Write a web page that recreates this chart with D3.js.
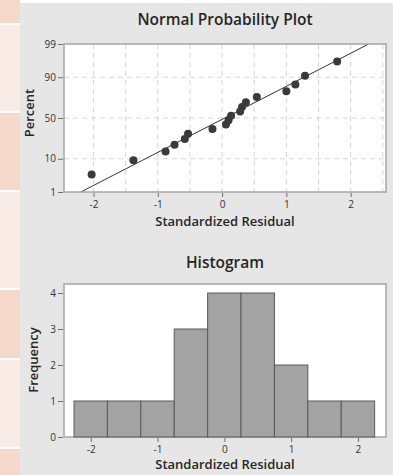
<!DOCTYPE html>
<html>
<head>
<meta charset="utf-8">
<script src="https://cdn.jsdelivr.net/npm/d3@7"></script>
<style>
body { margin: 0; background: #fff; font-family: "Open Sans", sans-serif; }
.tick text { font-family: "Open Sans", sans-serif; }
</style>
</head>
<body>
<div class="chart"></div>
<script>
// standardized residuals (sorted) and their plotted percent
var residuals = [-2.03, -1.38, -0.88, -0.74, -0.58, -0.53, -0.15, 0.06, 0.10, 0.14,
                 0.28, 0.31, 0.37, 0.54, 1.00, 1.14, 1.29, 1.79];
var percents  = [3.8, 9.2, 14.7, 20.1, 25.5, 31.0, 36.4, 41.8, 47.3, 52.7,
                 58.2, 63.6, 69.0, 74.5, 79.9, 85.3, 90.8, 96.2];
var pctTicks  = [1, 10, 50, 90, 99];
var pctGrid   = [10, 50, 90];
var resTicks  = [-2, -1, 0, 1, 2];
var resGrid   = [-2, -1.5, -1, -0.5, 0, 0.5, 1, 1.5, 2, 2.5];

// histogram
var binMids   = [-2, -1.5, -1, -0.5, 0, 0.5, 1, 1.5, 2];
var freqs     = [1, 1, 1, 3, 4, 4, 2, 1, 1];
var binWidth  = 0.5;
var freqTicks = [0, 1, 2, 3, 4];

// inverse normal cdf (Acklam)
function probit(p){
    var a = [-3.969683028665376e+01, 2.209460984245205e+02, -2.759285104469687e+02,
             1.383577518672690e+02, -3.066479806614716e+01, 2.506628277459239e+00];
    var b = [-5.447609879822406e+01, 1.615858368580409e+02, -1.556989798598866e+02,
             6.680131188771972e+01, -1.328068155288572e+01];
    var c = [-7.784894002430293e-03, -3.223964580411365e-01, -2.400758277161838e+00,
             -2.549732539343734e+00, 4.374664141464968e+00, 2.938163982698783e+00];
    var d = [7.784695709041462e-03, 3.224671290700398e-01, 2.445134137142996e+00,
             3.754408661907416e+00];
    var pl = 0.02425, q, r;
    if(p < pl){
        q = Math.sqrt(-2 * Math.log(p));
        return (((((c[0]*q+c[1])*q+c[2])*q+c[3])*q+c[4])*q+c[5]) / ((((d[0]*q+d[1])*q+d[2])*q+d[3])*q+1);
    }
    if(p > 1 - pl){
        q = Math.sqrt(-2 * Math.log(1 - p));
        return -(((((c[0]*q+c[1])*q+c[2])*q+c[3])*q+c[4])*q+c[5]) / ((((d[0]*q+d[1])*q+d[2])*q+d[3])*q+1);
    }
    q = p - 0.5; r = q * q;
    return (((((a[0]*r+a[1])*r+a[2])*r+a[3])*r+a[4])*r+a[5])*q / (((((b[0]*r+b[1])*r+b[2])*r+b[3])*r+b[4])*r+1);
}

// plain hyphen minus, like the original
var plain = (d) => { return String(d); };

var W = 393, H = 475;
var svg = d3.select('.chart').append('svg')
    .attr('width', W)
    .attr('height', H);

/* page background: pink side strip + gray panel */
var strips = [[0, 23, 1], [25, 111, 0], [113, 190, 1], [192, 288, 0], [290, 358, 1], [360, 447, 0], [449, 475, 1]];
svg.selectAll('.strip')
    .data(strips)
    .enter().append('rect')
    .attr('x', 0)
    .attr('width', 20)
    .attr('y', (d) => { return d[0]; })
    .attr('height', (d) => { return d[1] - d[0]; })
    .attr('fill', (d) => { return d[2] ? '#f4d8cc' : '#f9ece7'; });

svg.append('rect')
    .attr('x', 20).attr('y', 3)
    .attr('width', W - 20).attr('height', H - 3)
    .attr('fill', '#e6e6e6');

var ink = '#262626';

function styleAxis(g){
    g.select('.domain').remove();
    g.selectAll('.tick line').attr('stroke', '#707070');
    g.selectAll('.tick text')
        .attr('fill', '#333')
        .style('font-size', '10px');
}

function title(txt, y){
    svg.append('text')
        .attr('x', 225).attr('y', y)
        .attr('text-anchor', 'middle')
        .style('font-size', '15.5px')
        .style('font-weight', 600)
        .attr('fill', ink)
        .text(txt);
}

function xTitle(txt, y){
    svg.append('text')
        .attr('x', 225).attr('y', y)
        .attr('text-anchor', 'middle')
        .style('font-size', '13px')
        .style('font-weight', 600)
        .attr('fill', ink)
        .text(txt);
}

function yTitle(txt, x, y){
    svg.append('text')
        .attr('transform', `translate(${x}, ${y}) rotate(-90)`)
        .attr('text-anchor', 'middle')
        .style('font-size', '13px')
        .style('font-weight', 600)
        .attr('fill', ink)
        .text(txt);
}

/**** Normal Probability Plot ****/
var p1 = { left: 64, right: 386, top: 44, bottom: 192 };
var x1 = d3.scaleLinear().domain([-2.46, 2.55]).range([p1.left, p1.right]);
var zLo = probit(0.01), zHi = probit(0.99);
var y1 = d3.scaleLinear().domain([zLo, zHi]).range([p1.bottom, p1.top]);

svg.append('rect')
    .attr('x', p1.left).attr('y', p1.top)
    .attr('width', p1.right - p1.left).attr('height', p1.bottom - p1.top)
    .attr('fill', '#fff');

// dashed grid
svg.selectAll('.gx1')
    .data(resGrid)
    .enter().append('line')
    .attr('x1', (d) => { return x1(d); }).attr('x2', (d) => { return x1(d); })
    .attr('y1', p1.top).attr('y2', p1.bottom)
    .attr('stroke', '#d6d6d6').attr('stroke-dasharray', '5,4');
svg.selectAll('.gy1')
    .data(pctGrid)
    .enter().append('line')
    .attr('x1', p1.left).attr('x2', p1.right)
    .attr('y1', (d) => { return y1(probit(d / 100)); })
    .attr('y2', (d) => { return y1(probit(d / 100)); })
    .attr('stroke', '#d6d6d6').attr('stroke-dasharray', '5,4');

svg.append('defs').append('clipPath').attr('id', 'clip1')
    .append('rect')
    .attr('x', p1.left).attr('y', p1.top)
    .attr('width', p1.right - p1.left).attr('height', p1.bottom - p1.top);

// fitted normal line from sample mean / sd
var mu = d3.mean(residuals), sd = d3.deviation(residuals);
svg.append('line')
    .attr('clip-path', 'url(#clip1)')
    .attr('x1', x1(mu + zLo * sd)).attr('y1', y1(zLo))
    .attr('x2', x1(mu + zHi * sd)).attr('y2', y1(zHi))
    .attr('stroke', '#333').attr('stroke-width', 1);

svg.selectAll('.pt')
    .data(residuals)
    .enter().append('circle')
    .attr('cx', (d) => { return x1(d); })
    .attr('cy', (d, i) => { return y1(probit(percents[i] / 100)); })
    .attr('r', 4)
    .attr('fill', '#3a3a3a');

svg.append('rect')
    .attr('x', p1.left).attr('y', p1.top)
    .attr('width', p1.right - p1.left).attr('height', p1.bottom - p1.top)
    .attr('fill', 'none').attr('stroke', '#a6a6a6').attr('stroke-width', 1.5);

svg.append('g')
    .attr('transform', `translate(${p1.left - 1}, 0)`)
    .call(d3.axisLeft(y1)
        .tickValues(pctTicks.map((p) => { return probit(p / 100); }))
        .tickFormat((d, i) => { return pctTicks[i]; })
        .tickSize(5).tickPadding(2))
    .call(styleAxis);

svg.append('g')
    .attr('transform', `translate(0, ${p1.bottom + 1})`)
    .call(d3.axisBottom(x1).tickValues(resTicks).tickFormat(plain)
        .tickSize(4).tickPadding(4))
    .call(styleAxis);

title('Normal Probability Plot', 25);
xTitle('Standardized Residual', 226);
yTitle('Percent', 34, 113);

/**** Histogram ****/
var p2 = { left: 64, right: 386, top: 284, bottom: 437 };
var x2 = d3.scaleLinear().domain([-2.40, 2.42]).range([p2.left, p2.right]);
var y2 = d3.scaleLinear().domain([0, 4.25]).range([p2.bottom, p2.top]);

svg.append('rect')
    .attr('x', p2.left).attr('y', p2.top)
    .attr('width', p2.right - p2.left).attr('height', p2.bottom - p2.top)
    .attr('fill', '#fff')
    .attr('stroke', '#a6a6a6').attr('stroke-width', 1.5);

svg.selectAll('.bar')
    .data(binMids)
    .enter().append('rect')
    .attr('class', 'bar')
    .attr('x', (d) => { return x2(d - binWidth / 2); })
    .attr('width', (d) => { return x2(d + binWidth / 2) - x2(d - binWidth / 2); })
    .attr('y', (d, i) => { return y2(freqs[i]); })
    .attr('height', (d, i) => { return y2(0) - y2(freqs[i]); })
    .attr('fill', '#a3a3a3')
    .attr('stroke', '#5a5a5a').attr('stroke-width', 1);

svg.append('g')
    .attr('transform', `translate(${p2.left - 1}, 0)`)
    .call(d3.axisLeft(y2).tickValues(freqTicks).tickFormat(plain).tickSize(5).tickPadding(2))
    .call(styleAxis);

svg.append('g')
    .attr('transform', `translate(0, ${p2.bottom + 1})`)
    .call(d3.axisBottom(x2).tickValues(resTicks).tickFormat(plain)
        .tickSize(4).tickPadding(4))
    .call(styleAxis);

title('Histogram', 268);
xTitle('Standardized Residual', 469);
yTitle('Frequency', 38, 360);
</script>
</body>
</html>
